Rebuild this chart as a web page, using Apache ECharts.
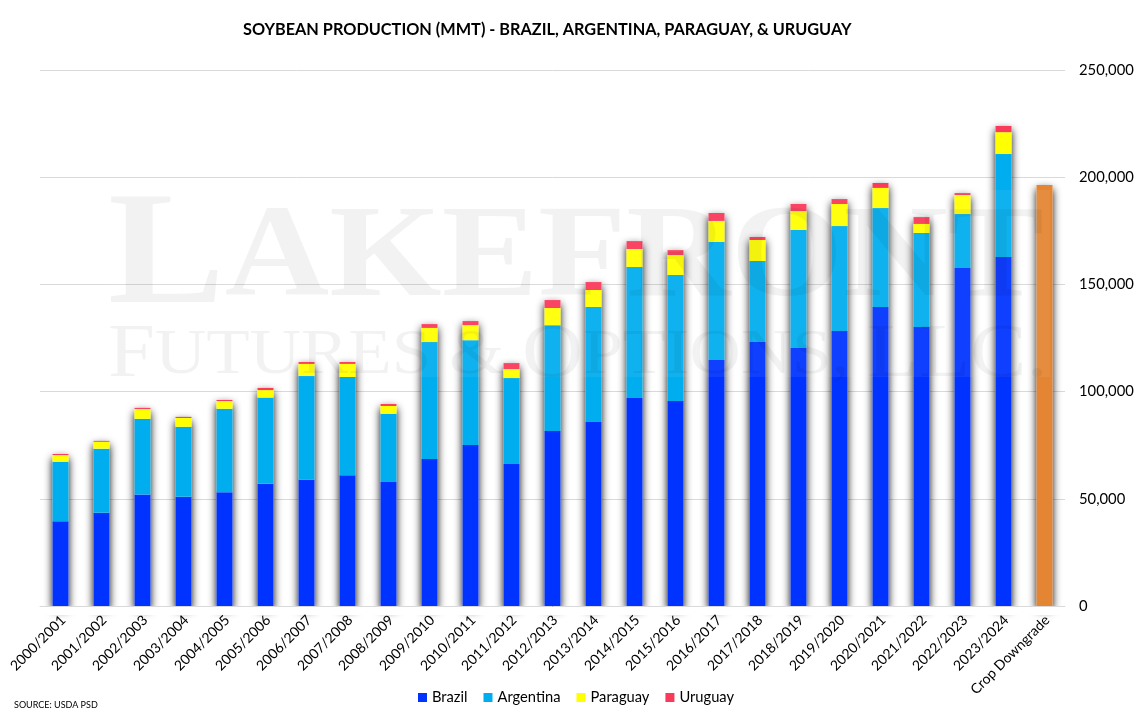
<!DOCTYPE html>
<html>
<head>
<meta charset="utf-8">
<title>Soybean Production</title>
<script src="https://cdn.jsdelivr.net/npm/echarts@6/dist/echarts.min.js"></script>
<style>
html, body { margin: 0; padding: 0; background: #fff; }
#chart-container { width: 1144px; height: 714px; }
</style>
</head>
<body>
<div id="chart-container"></div>
<script>
// 數據 (讀自圖表)
var categories = ['2000/2001', '2001/2002', '2002/2003', '2003/2004', '2004/2005', '2005/2006', '2006/2007', '2007/2008', '2008/2009', '2009/2010', '2010/2011', '2011/2012', '2012/2013', '2013/2014', '2014/2015', '2015/2016', '2016/2017', '2017/2018', '2018/2019', '2019/2020', '2020/2021', '2021/2022', '2022/2023', '2023/2024', 'Crop Downgrade'];
var brazil = [39500, 43500, 52000, 51000, 53000, 57000, 59000, 61000, 57800, 68600, 75100, 66200, 81600, 85800, 97000, 95600, 114700, 123100, 120300, 128300, 139500, 130100, 157600, 162800, null];
var argentina = [27800, 29900, 35300, 32600, 39000, 40200, 48300, 45800, 31900, 54500, 48900, 40100, 49400, 53700, 61100, 58800, 55100, 37800, 55100, 48900, 46100, 43900, 25200, 48000, null];
var paraguay = [3100, 3200, 4600, 4100, 3600, 3500, 5600, 6100, 3600, 6600, 7000, 4200, 8000, 7900, 8400, 9300, 9800, 9800, 8800, 10300, 9400, 4200, 8900, 10200, null];
var uruguay = [500, 400, 500, 500, 500, 1000, 900, 900, 900, 1800, 1900, 2800, 3700, 3700, 3700, 2300, 3700, 1400, 3300, 2300, 2300, 3200, 900, 2900, null];
var cropDowngrade = [null, null, null, null, null, null, null, null, null, null, null, null, null, null, null, null, null, null, null, null, null, null, null, null, 196400];
var yTicks = [0, 50000, 100000, 150000, 200000, 250000];

// 每根柱子的總高度，只用來畫陰影
var totals = categories.map(function(c, i) {
    return (brazil[i] || 0) + (argentina[i] || 0) + (paraguay[i] || 0) + (uruguay[i] || 0) + (cropDowngrade[i] || 0);
});

var chart = echarts.init(document.getElementById('chart-container'));
var uiFont = 'Lato';

function stackSeries(name, data, color) {
    return {
        name: name,
        type: 'bar',
        stack: 'total',
        z: 3,
        barWidth: 16,
        barGap: '-100%',
        itemStyle: { color: color },
        data: data
    };
}

var option = {
    animation: false,
    backgroundColor: '#fff',
    title: {
        text: 'SOYBEAN PRODUCTION (MMT) - BRAZIL, ARGENTINA, PARAGUAY, & URUGUAY',
        left: 238,
        top: 17,
        textStyle: { fontFamily: uiFont, fontSize: 16.3, fontWeight: 'bold', color: '#000' }
    },
    grid: { left: 40, right: 79, top: 70, bottom: 108 },
    legend: {
        left: 413,
        top: 685,
        icon: 'rect',
        itemWidth: 9,
        itemHeight: 9,
        itemGap: 16,
        data: ['Brazil', 'Argentina', 'Paraguay', 'Uruguay'],
        textStyle: { fontFamily: uiFont, fontSize: 14.7, color: '#000' }
    },
    xAxis: {
        type: 'category',
        z: 4,
        data: categories,
        axisLine: { lineStyle: { color: '#d9d9d9' } },
        axisTick: { show: false },
        axisLabel: { rotate: 45, interval: 0, margin: 9, verticalAlign: 'top', lineHeight: 8, fontFamily: uiFont, fontSize: 14, color: '#000' }
    },
    yAxis: {
        type: 'value',
        position: 'right',
        min: yTicks[0],
        max: yTicks[yTicks.length - 1],
        interval: yTicks[1],
        axisLine: { show: false },
        axisTick: { show: false },
        splitLine: { lineStyle: { color: '#d9d9d9' } },
        axisLabel: {
            margin: 14,
            fontFamily: uiFont,
            fontSize: 14.8,
            color: '#000',
            formatter: function(v) { return v.toLocaleString('en-US'); }
        }
    },
    series: [
        { // 陰影層
            name: 'shadow',
            type: 'bar',
            z: 2,
            barWidth: 16,
            barGap: '-100%',
            silent: true,
            itemStyle: { color: '#fff', shadowColor: 'rgba(0,0,0,1)', shadowBlur: 8, shadowOffsetY: 4 },
            data: totals
        },
        stackSeries('Brazil', brazil, '#0033ff'),
        stackSeries('Argentina', argentina, '#00aeef'),
        stackSeries('Paraguay', paraguay, '#ffff00'),
        stackSeries('Uruguay', uruguay, '#f93a5a'),
        stackSeries('Crop Downgrade', cropDowngrade, '#e48534')
    ],
    graphic: [
        { // 蓋住軸線下方的陰影
            type: 'rect',
            z: 2.5,
            silent: true,
            shape: { x: 40, y: 607, width: 1025, height: 8 },
            style: { fill: '#fff' }
        },
        { // 浮水印底色
            type: 'rect',
            z: 100,
            silent: true,
            shape: { x: 105, y: 190, width: 945, height: 187 },
            style: { fill: 'rgba(255,255,255,0.06)' }
        },
        {
            type: 'text',
            z: 101,
            silent: true,
            x: 108,
            y: 181,
            scaleX: 1.095,
            style: {
                text: '{a|L}{b|AKEFRONT}',
                rich: {
                    a: { fontFamily: 'Liberation Serif', fontWeight: 'bold', fontSize: 160, fill: 'rgba(0,0,0,0.05)' },
                    b: { fontFamily: 'Liberation Serif', fontWeight: 'bold', fontSize: 132, fill: 'rgba(0,0,0,0.05)' }
                }
            }
        },
        {
            type: 'text',
            z: 101,
            silent: true,
            x: 108,
            y: 318,
            scaleX: 1.11,
            style: {
                text: '{a|F}{b|UTURES & }{a|O}{b|PTIONS, }{a|LLC.}',
                rich: {
                    a: { fontFamily: 'Liberation Serif', fontSize: 76, fill: 'rgba(0,0,0,0.05)' },
                    b: { fontFamily: 'Liberation Serif', fontSize: 64, fill: 'rgba(0,0,0,0.05)' }
                }
            }
        },
        {
            type: 'text',
            left: 14,
            top: 701,
            style: { text: 'SOURCE: USDA PSD', fontFamily: uiFont, fontSize: 9, fill: '#000' }
        }
    ]
};

chart.setOption(option);

window.addEventListener('resize', function() {
    chart.resize();
});
</script>
</body>
</html>
